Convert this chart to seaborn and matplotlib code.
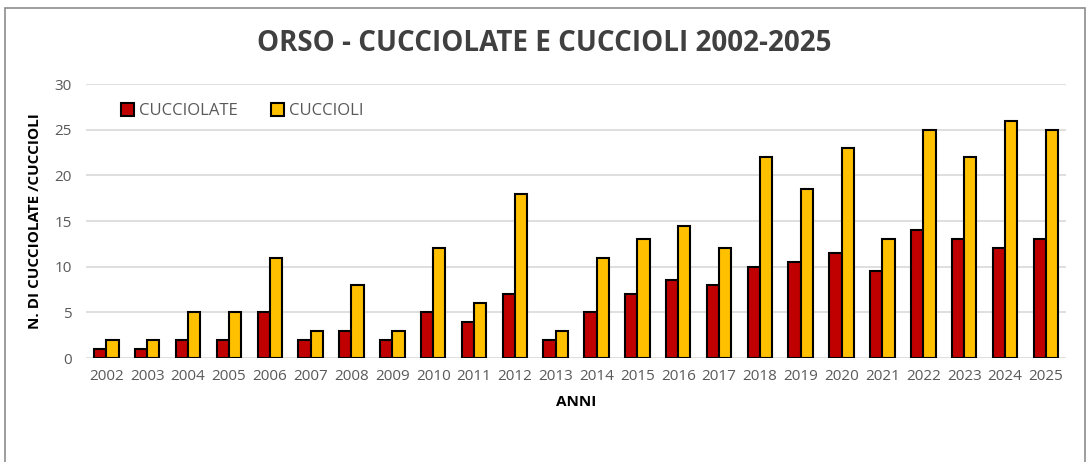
import pandas as pd
import seaborn as sns
import matplotlib.pyplot as plt
from matplotlib.patches import Rectangle

# values
anni = ['2002', '2003', '2004', '2005', '2006', '2007', '2008', '2009', '2010', '2011', '2012', '2013',
        '2014', '2015', '2016', '2017', '2018', '2019', '2020', '2021', '2022', '2023', '2024', '2025']
cucciolate = [1, 1, 2, 2, 5, 2, 3, 2, 5, 4, 7, 2, 5, 7, 8.5, 8, 10, 10.5, 11.5, 9.5, 14, 13, 12, 13]
cuccioli = [2, 2, 5, 5, 11, 3, 8, 3, 12, 6, 18, 3, 11, 13, 14.5, 12, 22, 18.5, 23, 13, 25, 22, 26, 25]

df = pd.DataFrame({'anno': anni * 2,
                   'valore': cucciolate + cuccioli,
                   'serie': ['CUCCIOLATE'] * len(anni) + ['CUCCIOLI'] * len(anni)})

sns.set_style("white")
plt.rcParams['font.family'] = ['Open Sans', 'DejaVu Sans']

fig = plt.figure(figsize=(10.88, 4.62), dpi=100)
ax = fig.add_axes([0.079, 0.225, 0.901, 0.593])

sns.barplot(data=df, x='anno', y='valore', hue='serie',
            palette={'CUCCIOLATE': '#C00000', 'CUCCIOLI': '#FFC000'}, saturation=1,
            width=0.6, edgecolor='black', linewidth=1.5, ax=ax)

ax.set_ylim(0, 30)
ax.set_xlim(-0.5, len(anni) - 0.5)
ax.set_yticks(range(0, 31, 5))
ax.yaxis.grid(True, color='#d9d9d9', linewidth=1.2)
ax.set_axisbelow(True)
for s in ax.spines.values():
    s.set_visible(False)
ax.tick_params(axis='both', length=0, labelsize=11, labelcolor='#595959')
ax.tick_params(axis='x', pad=8)
ax.tick_params(axis='y', pad=10)

ax.set_xlabel('ANNI', fontsize=11, fontweight='bold', color='black', labelpad=8)
ax.set_ylabel('N. DI CUCCIOLATE /CUCCIOLI', fontsize=11, fontweight='bold', color='black', labelpad=9)

leg = ax.legend(loc='upper left', bbox_to_anchor=(0.02, 0.985), ncol=2, frameon=False,
                fontsize=12, handlelength=0.8, handleheight=0.8, handletextpad=0.3,
                columnspacing=2.0, labelcolor='#595959')

fig.text(0.5, 0.905, 'ORSO - CUCCIOLATE E CUCCIOLI 2002-2025', ha='center', va='center',
         fontsize=20, fontweight='bold', color='#404040')

# outer chart border
fig.patches.append(Rectangle((5 / 1088, -0.01), 1080 / 1088, 1 - 8 / 462 + 0.01,
                             transform=fig.transFigure, fill=False,
                             edgecolor='#8c8c8c', linewidth=1.2))

fig.savefig('out.png', dpi=100)
